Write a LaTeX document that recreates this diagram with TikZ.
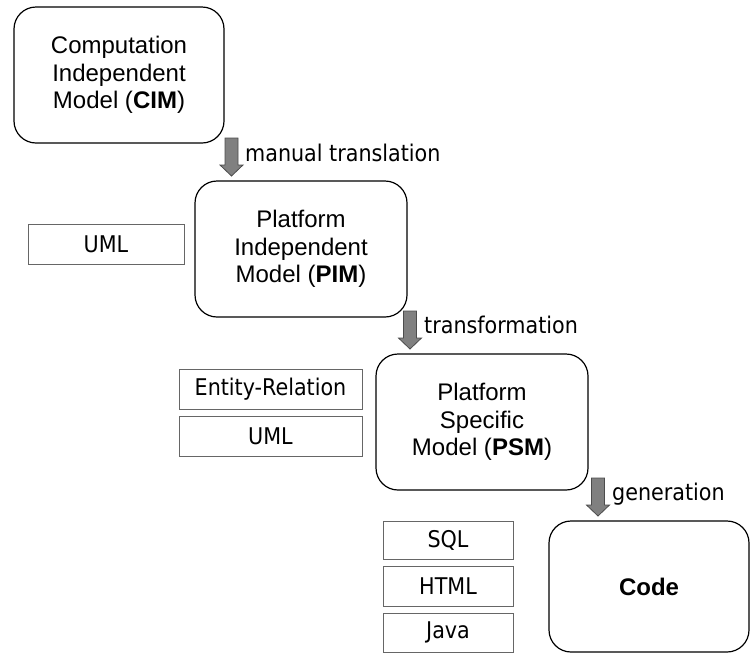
\documentclass[tikz,border=0pt]{standalone}
\usepackage{fontspec}
\setmainfont{Liberation Sans}
\newfontfamily\labelfont{DejaVu Sans Condensed}
\begin{document}
\begin{tikzpicture}[x=1pt,y=-1pt,
  model/.style={draw=black, line width=1.2pt, rounded corners=22pt, align=center,
    inner sep=0pt, font=\fontsize{24}{27.5}\selectfont},
  tag/.style={draw=black!60, line width=1pt, inner sep=0pt,
    font=\labelfont\fontsize{23}{25}\selectfont},
  lbl/.style={anchor=west, inner sep=0pt, font=\labelfont\fontsize{23}{25}\selectfont},
  blockarrow/.style={fill=black!50, draw=black!70, line width=0.8pt, line join=miter}]
\useasboundingbox (0,0) rectangle (751,654);
% model boxes
\node[model, minimum width=210pt, minimum height=136pt] (cim) at (119,75)
  {Computation\\Independent\\Model (\textbf{CIM})};
\node[model, minimum width=212pt, minimum height=136pt] (pim) at (301,249)
  {Platform\\Independent\\Model (\textbf{PIM})};
\node[model, minimum width=212pt, minimum height=136pt] (psm) at (482,422)
  {Platform\\Specific\\Model (\textbf{PSM})};
\node[model, minimum width=200pt, minimum height=131pt] (code) at (649,586.5)
  {\textbf{Code}};
% notation boxes
\node[tag, minimum width=156pt, minimum height=40pt] (uml1) at (106,244) {UML};
\node[tag, minimum width=183pt, minimum height=40pt] (er) at (270.5,389) {Entity-Relation};
\node[tag, minimum width=183pt, minimum height=40pt] (uml2) at (270.5,436) {UML};
\node[tag, minimum width=130pt, minimum height=38pt] (sql) at (448,540) {SQL};
\node[tag, minimum width=130pt, minimum height=40pt] (html) at (448,586) {HTML};
\node[tag, minimum width=130pt, minimum height=39pt] (java) at (448,632.5) {Java};
% block arrows
\coordinate (a1) at (231.5,138);
\coordinate (a2) at (410,311);
\coordinate (a3) at (598,478);
\foreach \a in {a1,a2,a3}{
  \draw[blockarrow] (\a) ++(-6.5,0) -- ++(13,0) -- ++(0,27) -- ++(5,0)
    -- ++(-11.5,11) -- ++(-11.5,-11) -- ++(5,0) -- cycle;
}
% labels
\node[lbl] (l1) at (245,153) {manual translation};
\node[lbl] (l2) at (424,325) {transformation};
\node[lbl] (l3) at (612,494) {generation};
\end{tikzpicture}
\end{document}
